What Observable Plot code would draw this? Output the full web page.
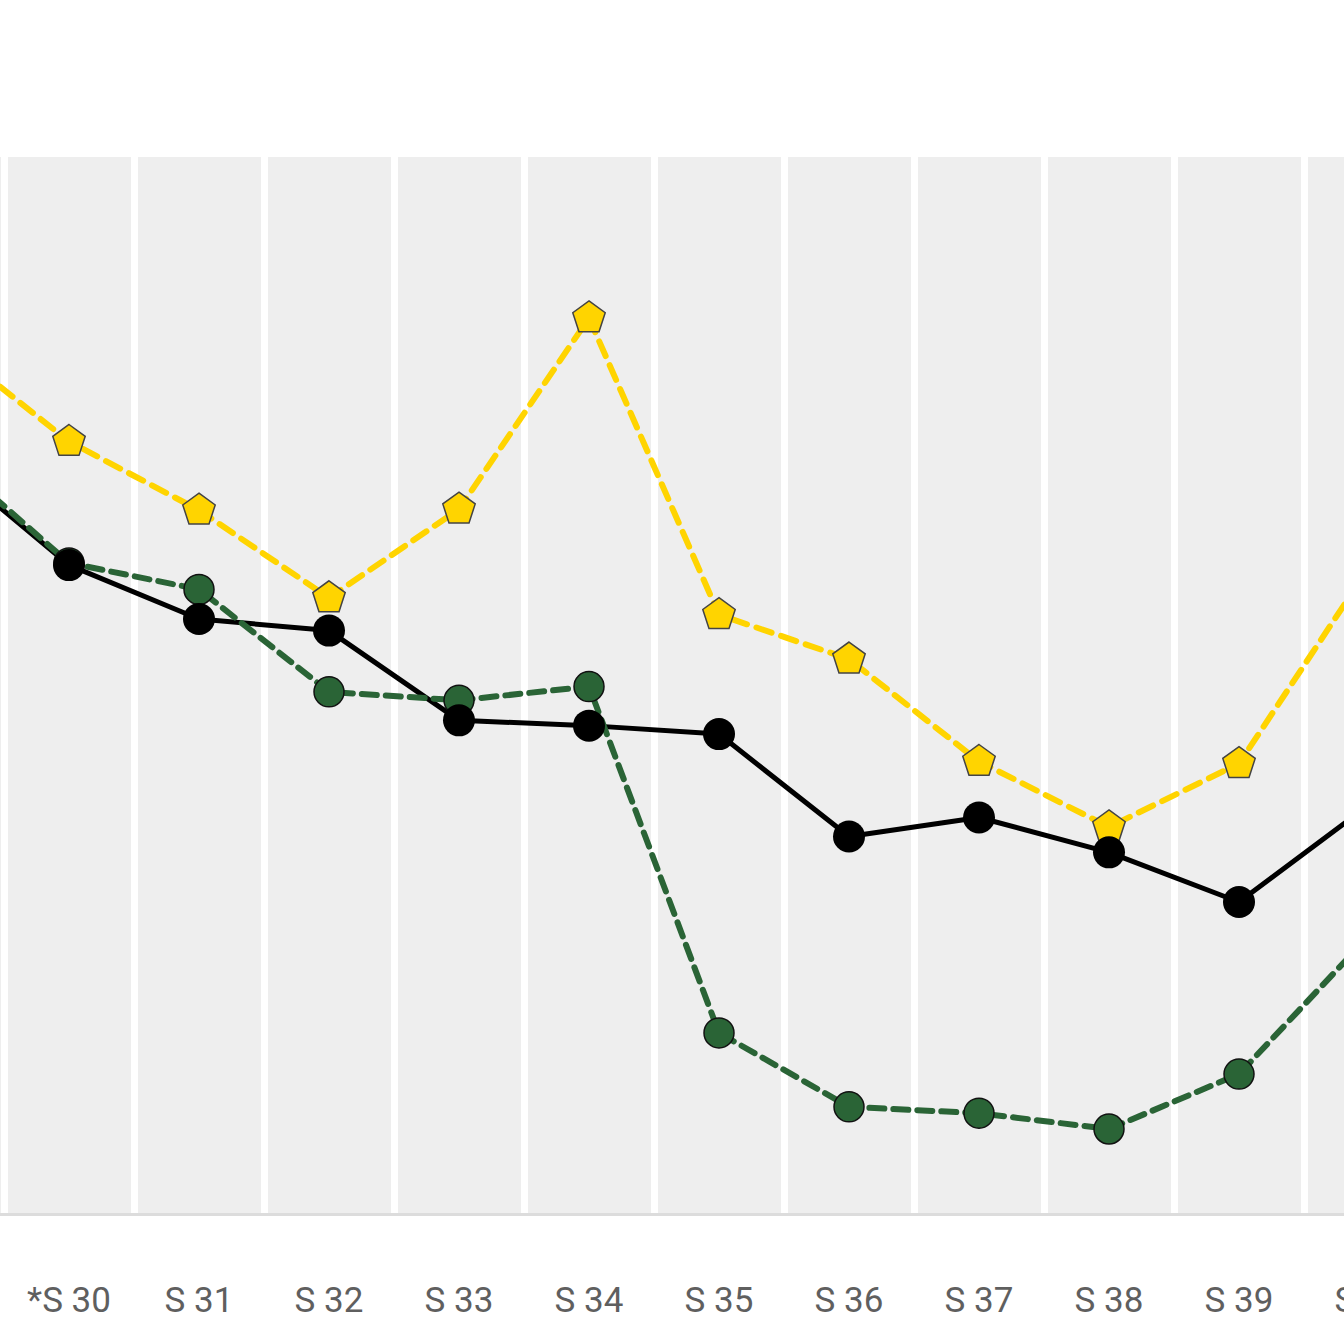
<!DOCTYPE html>
<html>
<head>
<meta charset="utf-8">
<script src="https://cdn.jsdelivr.net/npm/d3@7"></script>
<script src="https://cdn.jsdelivr.net/npm/@observablehq/plot@0.6"></script>
<style>
  html, body { margin: 0; padding: 0; background: #fff; overflow: hidden; }
  #chart { width: 1344px; height: 1344px; overflow: hidden; }
</style>
</head>
<body>
<div id="chart"></div>
<script>
// Categories (S 29 and S 40 sit partly outside the visible window)
const categories = ["S 29", "*S 30", "S 31", "S 32", "S 33", "S 34", "S 35", "S 36", "S 37", "S 38", "S 39", "S 40"];

// Series values (relative units 0–100)
const blackValues  = [71.7, 61.4, 56.3, 55.2, 46.7, 46.2, 45.4, 35.7, 37.5, 34.2, 29.5, 38.7];
const greenValues  = [72.4, 61.6, 59.1, 49.4, 48.6, 49.9, 17.1, 10.1, 9.5, 8.0, 13.2, 26.3];
const yellowValues = [82.9, 73.1, 66.6, 58.3, 66.7, 84.8, 56.7, 52.5, 42.8, 36.6, 42.6, 61.2];

const yDomain = [0, 100];

const toRows = (vals) => categories.map((c, i) => ({cat: c, v: vals[i]}));
const black = toRows(blackValues);
const green = toRows(greenValues);
const yellow = toRows(yellowValues);

// custom pentagon symbol
const pentagon = {
  draw(context, size) {
    const R = Math.sqrt(size / Math.PI) * 1.1;
    for (let k = 0; k < 5; k++) {
      const a = -Math.PI / 2 + k * 2 * Math.PI / 5;
      const x = R * Math.cos(a), y = R * Math.sin(a);
      if (k === 0) context.moveTo(x, y); else context.lineTo(x, y);
    }
    context.closePath();
  }
};

const step = 130.1;
const c0 = 69.3 - step; // center of first category
const rangeStart = c0 - step / 2;
const rangeEnd = rangeStart + step * categories.length;

const plot = Plot.plot({
  width: 1344,
  height: 1344,
  marginTop: 157,
  marginBottom: 131,
  marginLeft: 0,
  marginRight: 0,
  style: {background: "#ffffff", fontFamily: "Roboto, sans-serif", overflow: "hidden"},
  x: {type: "band", domain: categories, range: [rangeStart, rangeEnd], paddingInner: 0.054, paddingOuter: 0.027, align: 0.5, label: null},
  y: {domain: yDomain, axis: null},
  marks: [
    Plot.barY(categories, {x: d => d, y1: yDomain[0], y2: yDomain[1], fill: "#eeeeee"}),
    Plot.ruleY([yDomain[0]], {stroke: "#dcdcdc", strokeWidth: 3, dy: 1}),
    Plot.axisX({tickSize: 0, tickPadding: 74, fontSize: 35, fill: "#5f5f5f", stroke: null, label: null, dx: -1}),
    Plot.line(black, {x: "cat", y: "v", stroke: "#000000", strokeWidth: 5, dx: -1}),
    Plot.line(green, {x: "cat", y: "v", stroke: "#2a6436", strokeWidth: 6, strokeDasharray: "15,9", dx: -1}),
    Plot.line(yellow, {x: "cat", y: "v", stroke: "#ffd400", strokeWidth: 6, strokeDasharray: "16,10", dx: -1}),
    Plot.dot(yellow, {x: "cat", y: "v", symbol: pentagon, r: 15.5, fill: "#ffd400", stroke: "#444444", strokeWidth: 1.5, dx: -1}),
    Plot.dot(green, {x: "cat", y: "v", r: 15, fill: "#2a6436", stroke: "#111111", strokeWidth: 1.5, dx: -1}),
    Plot.dot(black, {x: "cat", y: "v", r: 16, fill: "#000000", stroke: "none", dx: -1})
  ]
});
document.getElementById("chart").appendChild(plot);
</script>
</body>
</html>
